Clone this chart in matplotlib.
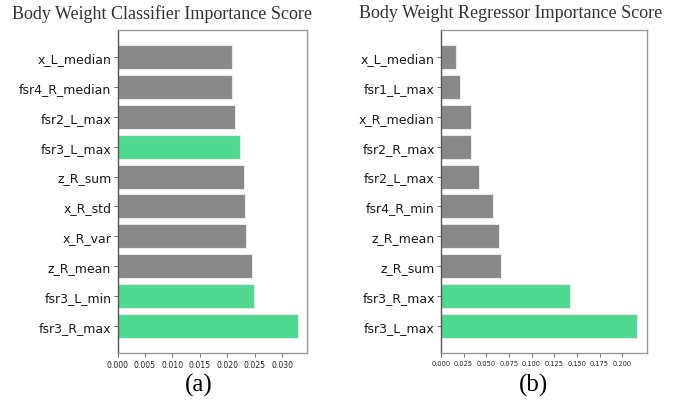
import matplotlib
matplotlib.use("Agg")
import matplotlib.pyplot as plt

# Classifier importance (top to bottom as displayed)
clf_features = ["x_L_median", "fsr4_R_median", "fsr2_L_max", "fsr3_L_max", "z_R_sum",
                "x_R_std", "x_R_var", "z_R_mean", "fsr3_L_min", "fsr3_R_max"]
clf_scores = [0.0209, 0.0208, 0.0214, 0.0224, 0.0231, 0.0233, 0.0234, 0.0245, 0.0249, 0.0329]
clf_highlight = [False, False, False, True, False, False, False, False, True, True]

# Regressor importance (top to bottom as displayed)
reg_features = ["x_L_median", "fsr1_L_max", "x_R_median", "fsr2_R_max", "fsr2_L_max",
                "fsr4_R_min", "z_R_mean", "z_R_sum", "fsr3_R_max", "fsr3_L_max"]
reg_scores = [0.0165, 0.0213, 0.0327, 0.0334, 0.0415, 0.0572, 0.0635, 0.0664, 0.1423, 0.2165]
reg_highlight = [False, False, False, False, False, False, False, False, True, True]

clf_ticks = [0.000, 0.005, 0.010, 0.015, 0.020, 0.025, 0.030]
reg_ticks = [0.000, 0.025, 0.050, 0.075, 0.100, 0.125, 0.150, 0.175, 0.200]

GRAY = "#888888"
GREEN = "#50d890"

W, H = 683, 402
fig = plt.figure(figsize=(W / 100, H / 100), dpi=100)

def make_axes(x0, x1, y0, y1):
    return fig.add_axes([x0 / W, 1 - y1 / H, (x1 - x0) / W, (y1 - y0) / H])

def draw(ax, feats, scores, hl, ticks, xfs):
    pos = list(range(len(feats)))
    colors = [GREEN if h else GRAY for h in hl]
    ax.barh(pos, scores, height=0.8, color=colors, edgecolor="#e8e8e8", linewidth=0.8)
    ax.set_yticks(pos)
    ax.set_yticklabels(feats, fontsize=9, color="#1a1a1a")
    ax.invert_yaxis()
    ax.set_xticks(ticks)
    ax.set_xticklabels([f"{t:.3f}" for t in ticks], fontsize=xfs, color="#222222")
    ax.tick_params(axis="y", length=3, width=0.6, color="#555555", pad=1.5)
    ax.tick_params(axis="x", length=3, width=0.6, color="#555555", pad=2)
    ax.set_xlim(0, max(scores) * 1.05)
    for side in ["top", "right", "bottom"]:
        ax.spines[side].set_color("#999999")
        ax.spines[side].set_linewidth(1.0)
    ax.spines["left"].set_color("#555555")
    ax.spines["left"].set_linewidth(1.0)

ax1 = make_axes(117.5, 307, 31, 354)
draw(ax1, clf_features, clf_scores, clf_highlight, clf_ticks, 5.6)
ax2 = make_axes(441, 647, 31, 354)
draw(ax2, reg_features, reg_scores, reg_highlight, reg_ticks, 4.8)

serif = ["Liberation Serif", "DejaVu Serif"]
fig.text(162 / W, 1 - 14 / H, "Body Weight Classifier Importance Score",
         ha="center", va="center", fontsize=13, family=serif, color="#333333")
fig.text(511 / W, 1 - 14 / H, "Body Weight Regressor Importance Score",
         ha="center", va="center", fontsize=13, family=serif, color="#333333")
fig.text(199 / W, 1 - 385 / H, "(a)", ha="center", va="center", fontsize=18, family=serif, color="black")
fig.text(533 / W, 1 - 385 / H, "(b)", ha="center", va="center", fontsize=18, family=serif, color="black")

fig.savefig("out.png", dpi=100)
